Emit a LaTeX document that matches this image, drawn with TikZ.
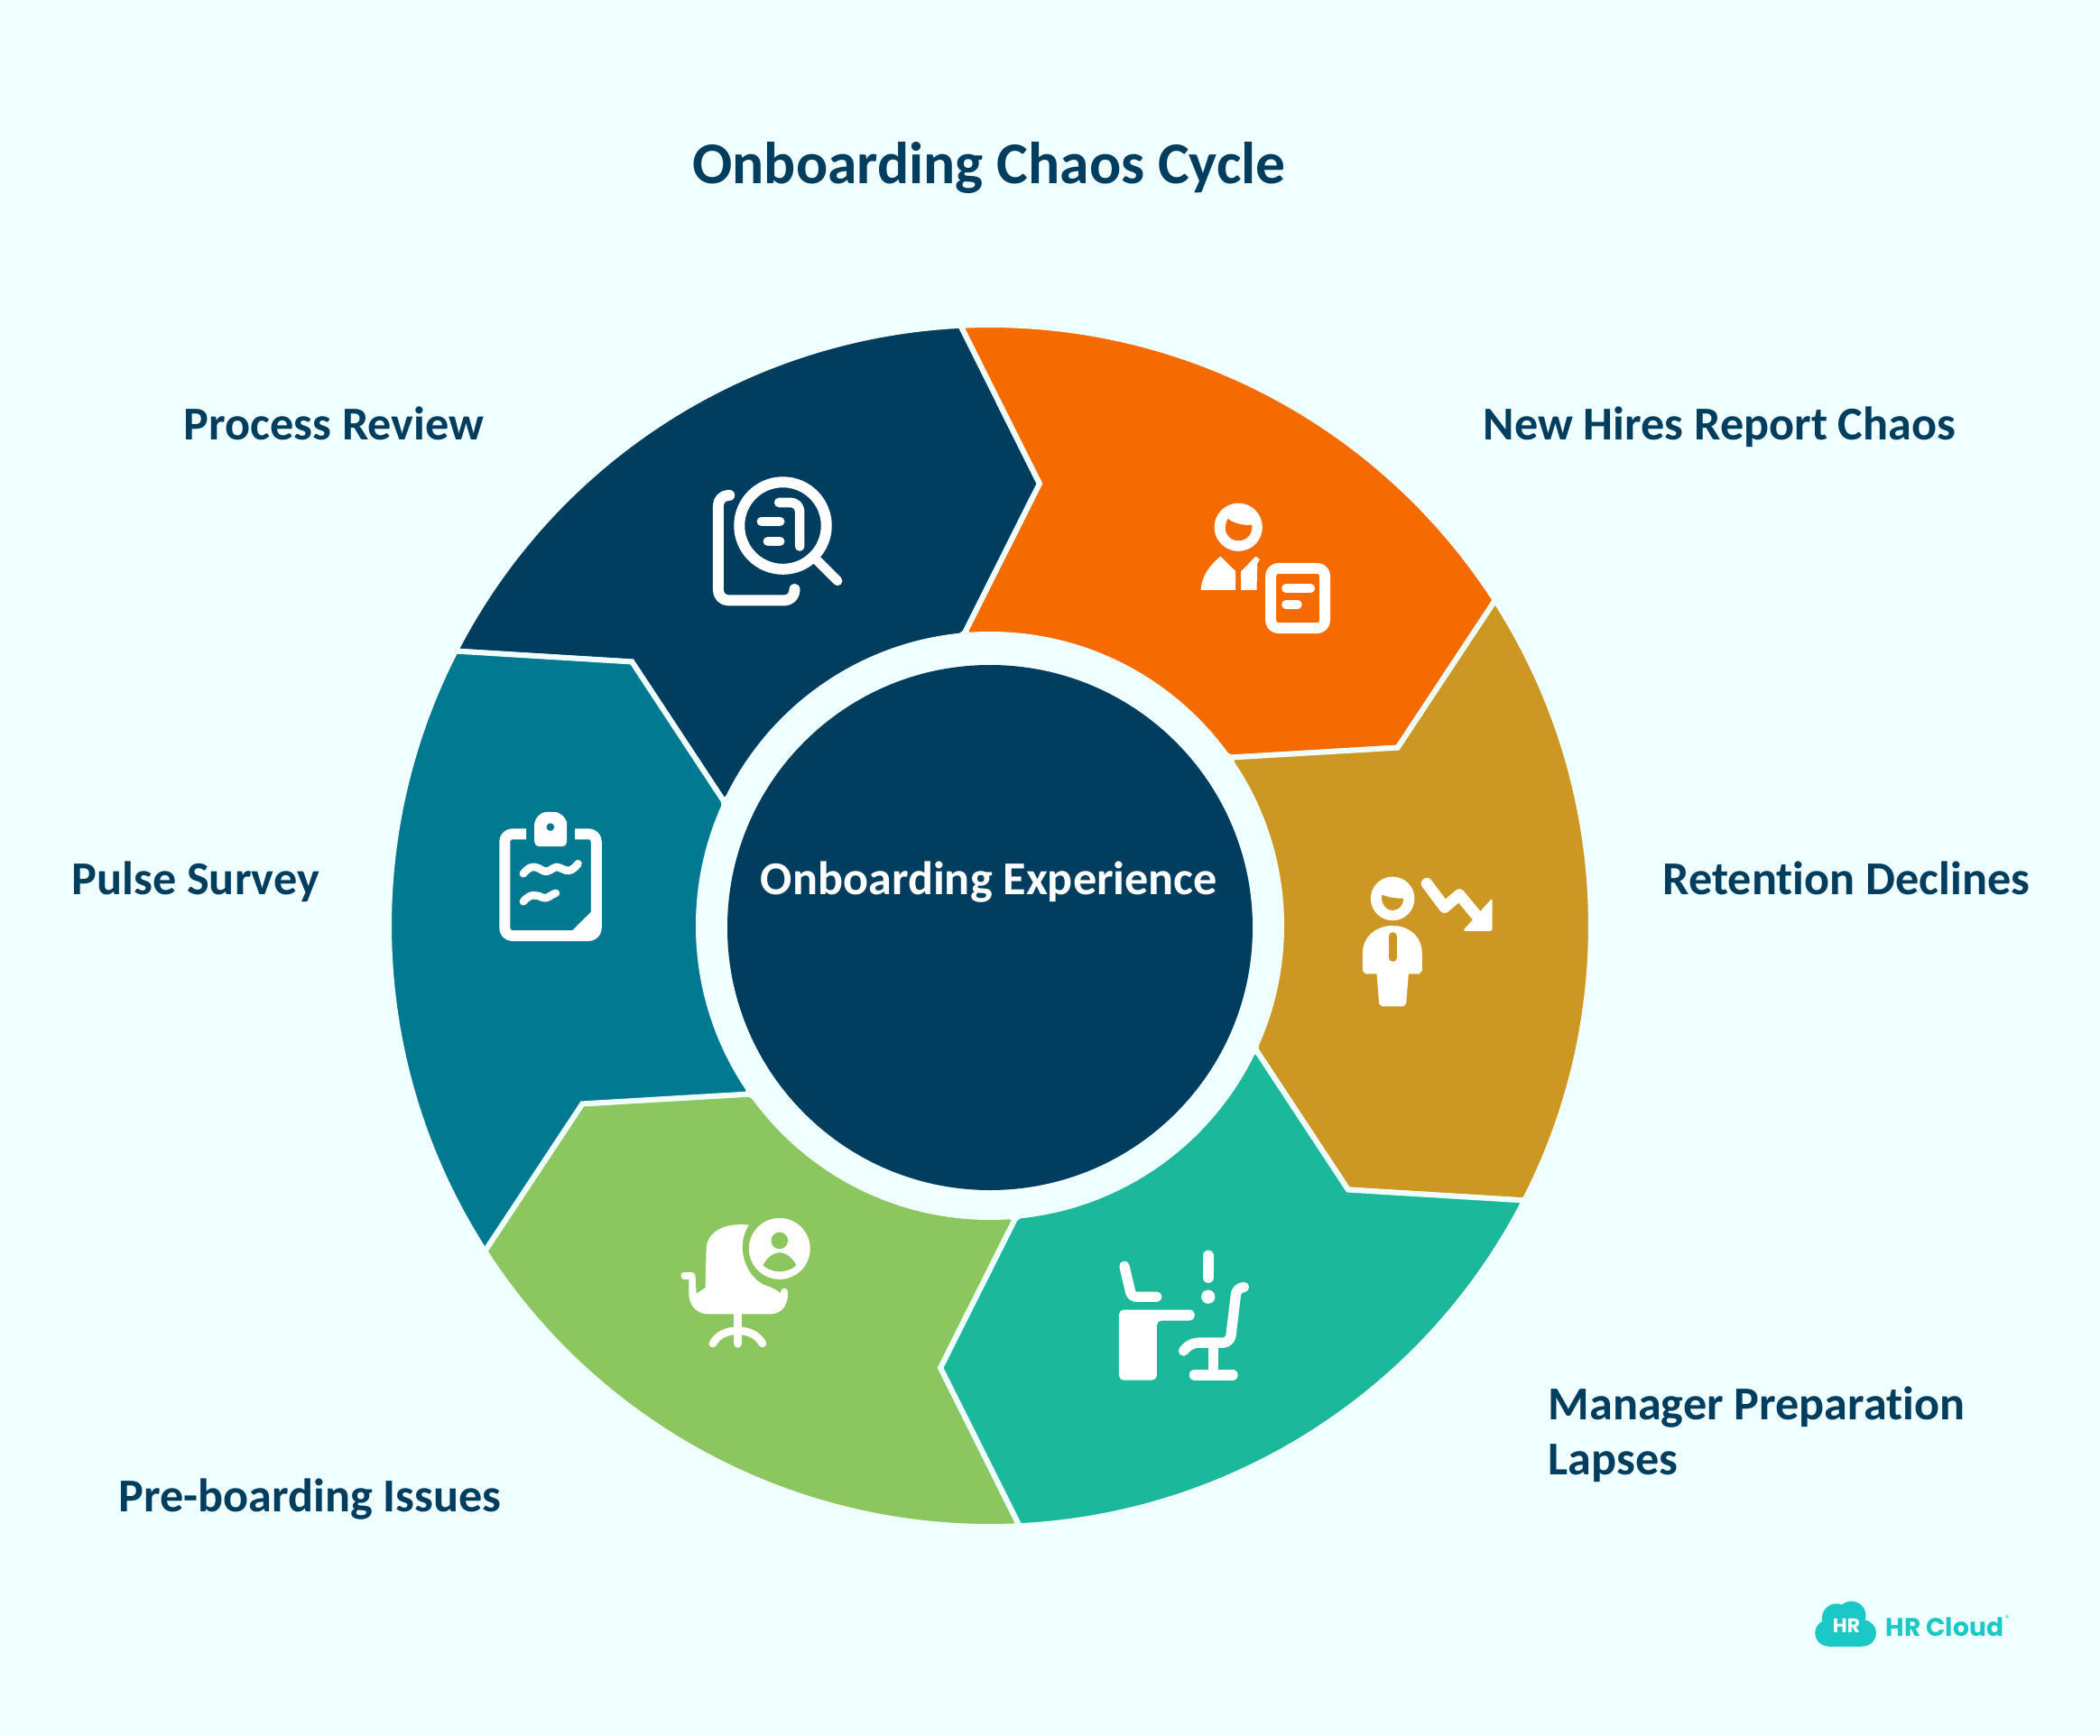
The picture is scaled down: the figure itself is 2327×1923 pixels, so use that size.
\documentclass[tikz,border=0pt]{standalone}
\usepackage{fontspec}
\setmainfont{Carlito}[Ligatures=NoCommon]
\newfontfamily\logofont{Poppins}
\definecolor{bgc}{HTML}{F0FFFF}
\definecolor{navyc}{HTML}{013D5E}
\definecolor{orangec}{HTML}{F66B00}
\definecolor{goldc}{HTML}{CD9724}
\definecolor{tealc}{HTML}{1CB89C}
\definecolor{greenc}{HTML}{8CC65E}
\definecolor{bluec}{HTML}{007991}
\definecolor{logoc}{HTML}{1BC8C8}
\tikzset{
  seg/.style={draw=bgc, line width=0.06cm, line join=miter},
  lbl/.style={text=navyc, font=\fontsize{14.85}{17.3}\selectfont\bfseries, anchor=base west, inner sep=0pt, align=left},
  icon/.style 2 args={shift={(#1-1097,1026-#2)}, x=0.00333cm, y=-0.00333cm},
  wl/.style={draw=white, line width=#1*0.00333cm, line cap=round, line join=round},
  rc/.style={rounded corners=#1*0.00333cm}
}
\begin{document}
\begin{tikzpicture}[x=0.01cm, y=0.01cm]
  \fill[bgc] (-1097,-897) rectangle (1230,1026);
  \useasboundingbox (-1097,-897) rectangle (1230,1026);

  \draw[seg, fill=navyc] (152.8:666) arc[start angle=152.8, end angle=92.8, radius=666] -- (83.6:493) -- (94.9:326) -- (154.9:326) -- (143.6:493) -- cycle;
  \draw[seg, fill=orangec] (92.8:666) arc[start angle=92.8, end angle=32.8, radius=666] -- (23.6:493) -- (34.9:326) -- (94.9:326) -- (83.6:493) -- cycle;
  \draw[seg, fill=goldc] (32.8:666) arc[start angle=32.8, end angle=-27.2, radius=666] -- (-36.4:493) -- (-25.1:326) -- (34.9:326) -- (23.6:493) -- cycle;
  \draw[seg, fill=tealc] (-27.2:666) arc[start angle=-27.2, end angle=-87.2, radius=666] -- (-96.4:493) -- (-85.1:326) -- (-25.1:326) -- (-36.4:493) -- cycle;
  \draw[seg, fill=greenc] (-87.2:666) arc[start angle=-87.2, end angle=-147.2, radius=666] -- (-156.4:493) -- (-145.1:326) -- (-85.1:326) -- (-96.4:493) -- cycle;
  \draw[seg, fill=bluec] (-147.2:666) arc[start angle=-147.2, end angle=-207.2, radius=666] -- (143.6:493) -- (154.9:326) -- (-145.1:326) -- (-156.4:493) -- cycle;

  \fill[bgc] (0,0) circle (326);
  \fill[navyc] (0,-2) circle (291);

  \node[text=navyc, font=\fontsize{18.65}{22}\selectfont\bfseries, anchor=base, inner sep=0pt] (Title) at (-1,822) {Onboarding Chaos Cycle};
  \node[lbl, text=white, anchor=base] (Core) at (-1,35) {Onboarding Experience};
  \node[lbl] (L1) at (-894,539) {Process Review};
  \node[lbl] (L2) at (546,539) {New Hires Report Chaos};
  \node[lbl] (L3) at (745,35) {Retention Declines};
  \node[lbl] (L4) at (618,-608) {Manager Preparation\\Lapses};
  \node[lbl] (L5) at (-966,-649) {Pre-boarding Issues};
  \node[lbl] (L6) at (-1018,35) {Pulse Survey};

  \begin{scope}[icon={770}{510}]
    \draw[wl=36, rc=34] (115,117) -- (78,117) -- (78,467) -- (332,467) -- (332,430);
    \draw[wl=36] (293,218) circle (145);
    \draw[wl=32] (408,335) -- (475,402);
    \draw[wl=32] (222,204) -- (283,204);
    \draw[wl=32] (243,270) -- (283,270);
    \draw[wl=32, rc=30] (280,141) -- (349,141) -- (349,287);
  \end{scope}

  \begin{scope}[icon={1310}{540}]
    \fill[white] (187,133) circle (80);
    \fill[orangec] (152,105) .. controls (175,122) and (205,128) .. (232,125) .. controls (236,155) and (215,178) .. (187,178) .. controls (155,178) and (130,145) .. (152,105) -- cycle;
    \fill[white] (62,342) .. controls (65,295) and (90,262) .. (127,230) -- (178,280) -- (178,342) -- cycle;
    \fill[white] (196,342) -- (196,280) -- (245,230) -- (258,240) -- (250,255) -- (248,342) -- cycle;
    \draw[wl=36, rc=26] (295,270) rectangle (475,469);
    \draw[wl=28] (345,337) -- (428,337);
    \draw[wl=28] (345,391) -- (385,391);
  \end{scope}

  \begin{scope}[icon={1440}{940}]
    \fill[white] (310,168) circle (73);
    \fill[goldc] (275,155) .. controls (298,165) and (322,168) .. (346,167) .. controls (345,192) and (330,207) .. (310,207) .. controls (290,207) and (268,185) .. (275,155) -- cycle;
    \fill[white] (210,350) .. controls (210,295) and (255,258) .. (310,258) .. controls (365,258) and (408,295) .. (408,350) -- (408,408) -- (398,419) -- (363,419) -- (355,518) -- (346,527) -- (274,527) -- (265,518) -- (257,419) -- (220,419) -- (210,408) -- cycle;
    \draw[wl=26, draw=goldc] (310,293) -- (310,365);
    \draw[wl=38] (424,118) -- (483,197) -- (532,155) -- (590,225);
    \fill[white, rc=8] (642,166) -- (642,276) -- (543,276) -- cycle;
  \end{scope}

  \begin{scope}[icon={1200}{1360}]
    \draw[wl=34, rc=14] (138,130) -- (162,232) -- (246,232);
    \fill[white, rc=16] (120,275) -- (355,275) -- (372,275) -- (372,311) -- (246,311) -- (246,510) -- (120,510) -- cycle;
    \draw[wl=36] (417,95) -- (417,168);
    \fill[white] (417,232) circle (23);
    \draw[wl=34, rc=24] (535,200) -- (512,200) -- (490,385) -- (360,385) -- (335,412);
    \fill[white] (418,385) rectangle (452,490);
    \draw[wl=36] (372,492) -- (498,492);
  \end{scope}

  \begin{scope}[icon={730}{1320}]
    \fill[white] (300,113) .. controls (225,105) and (160,130) .. (158,195) -- (155,322) -- (125,342) -- (122,285) .. controls (122,275) and (115,270) .. (108,270) -- (85,270) .. controls (70,270) and (70,295) .. (85,295) -- (100,295) -- (100,340) .. controls (100,385) and (130,410) .. (165,410) -- (370,410) .. controls (405,410) and (430,385) .. (430,340) .. controls (430,320) and (410,315) .. (404,340) .. controls (390,325) and (370,320) .. (350,312) .. controls (285,280) and (255,180) .. (300,113) -- cycle;
    \fill[white] (402,192) circle (102);
    \fill[greenc] (402,165) circle (28);
    \fill[greenc] (347,248) .. controls (360,220) and (385,205) .. (402,205) .. controls (420,205) and (445,220) .. (458,248) .. controls (425,275) and (380,275) .. (347,248) -- cycle;
    \draw[wl=28] (263,410) -- (263,508);
    \draw[wl=26] (180,508) .. controls (195,480) and (225,465) .. (263,465) .. controls (300,465) and (330,480) .. (345,508);
  \end{scope}

  \begin{scope}[icon={530}{880}]
    \draw[wl=36, line cap=butt, rc=26] (160,133) -- (88,133) -- (88,472) -- (393,472) -- (393,133) -- (322,133);
    \fill[white] (312,455) -- (375,393) -- (395,393) -- (395,460) -- cycle;
    \fill[white, rc=16] (187,175) -- (187,115) .. controls (187,80) and (210,60) .. (240,60) .. controls (270,60) and (295,80) .. (295,115) -- (295,175) -- cycle;
    \fill[bluec] (240,110) circle (13);
    \draw[wl=26] (150,265) .. controls (175,235) and (190,240) .. (215,255) .. controls (235,265) and (245,245) .. (260,243) .. controls (285,245) and (300,275) .. (332,232);
    \draw[wl=26] (150,358) .. controls (175,330) and (190,335) .. (215,345) .. controls (230,352) and (240,335) .. (258,330);
  \end{scope}

  \begin{scope}[icon={2000}{1760}]
    \fill[logoc] (78,150) circle (44);
    \fill[logoc] (105,100) circle (48);
    \fill[logoc] (155,92) circle (48);
    \fill[logoc] (193,150) circle (44);
    \fill[logoc] (78,110) rectangle (193,194);
  \end{scope}
  \node[text=white, font=\logofont\fontsize{6.2}{7}\selectfont\bfseries, inner sep=0pt] (LogoHR) at (949,-776) {HR};
  \node[text=logoc, font=\logofont\fontsize{8}{9}\selectfont\bfseries, inner sep=0pt, anchor=west] (LogoName) at (992,-777) {HR Cloud};
  \node[text=logoc, font=\logofont\fontsize{2.5}{3}\selectfont, inner sep=0pt] (LogoMark) at (1127,-767) {®};
\end{tikzpicture}
\end{document}
